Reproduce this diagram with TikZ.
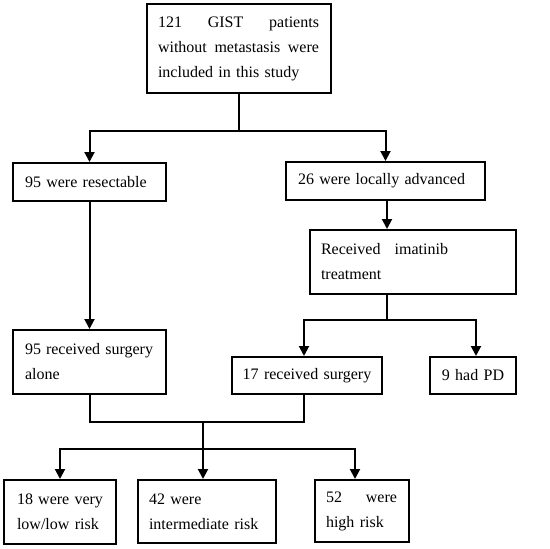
\documentclass[tikz,border=0pt]{standalone}
\usepackage{fontspec}
\setmainfont{Liberation Serif}
\usetikzlibrary{arrows.meta}
\begin{document}
\begin{tikzpicture}[x=1pt,y=-1pt,
  box/.style={draw, line width=2pt, align=left, inner ysep=0pt, font=\fontsize{16}{25}\selectfont},
  cbox/.style={box, align=center},
  conn/.style={line width=2pt},
  arr/.style={conn, -{Triangle[length=10pt,width=10pt]}}]
\useasboundingbox (0,0) rectangle (550,549);
\node[box, text width=162pt, inner xsep=11pt, minimum height=89pt] (top) at (239,48.5)
  {\makebox[161pt][l]{121\hfill GIST\hfill patients}\\\makebox[161pt][l]{without\hfill metastasis\hfill were}\\included in this study};
\node[box, text width=129pt, inner xsep=12pt, minimum height=38pt] (res) at (89.5,182) {95 were resectable};
\node[box, text width=175pt, inner xsep=12pt, minimum height=38pt] (adv) at (385.5,181) {26 were locally advanced};
\node[box, text width=184pt, inner xsep=11pt, minimum height=64pt] (ima) at (413,262)
  {\makebox[127pt][l]{Received\hfill imatinib}\\treatment};
\node[box, text width=129pt, inner xsep=12pt, minimum height=64pt] (alone) at (89.5,362)
  {\makebox[128pt][l]{95\hfill received\hfill surgery}\\alone};
\node[cbox, text width=146pt, inner xsep=2pt, minimum height=37pt] (s17) at (307,375.5) {17 received surgery};
\node[cbox, text width=82pt, inner xsep=2pt, minimum height=37pt] (pd) at (473,375.5) {9 had PD};
\node[box, text width=86pt, inner xsep=13pt, minimum height=64pt] (low) at (60,512)
  {\makebox[86pt][l]{18\hfill were\hfill very}\\low/low risk};
\node[box, text width=116pt, inner xsep=11pt, minimum height=63pt] (mid) at (207,511.5)
  {42 were\\intermediate risk};
\node[box, text width=72pt, inner xsep=11pt, minimum height=62pt] (high) at (362,511)
  {\makebox[71pt][l]{52\hfill were}\\high risk};
\coordinate (j1) at (239,131);
\coordinate (j2) at (387,320);
\coordinate (j3) at (203,422);
\coordinate (j4) at (203,449);
\draw[conn] (top.south) -- (j1);
\draw[arr] (j1) -| (res.north);
\draw[arr] (j1) -| (adv.north);
\draw[arr] (j2 |- adv.south) -- (j2 |- ima.north);
\draw[conn] (j2 |- ima.south) -- (j2);
\draw[arr] (j2) -| ([xshift=-3pt]s17.north);
\draw[arr] (j2) -| ([xshift=3pt]pd.north);
\draw[arr] (res.south) -- (alone.north);
\draw[conn] (alone.south) |- (j3) -| ([xshift=-3pt]s17.south);
\draw[conn] (j3) -- (j4);
\draw[arr] (j4) -| (low.north);
\draw[arr] (j4) -- (j4 |- mid.north);
\draw[arr] (j4) -| ([xshift=-7pt]high.north);
\end{tikzpicture}
\end{document}
